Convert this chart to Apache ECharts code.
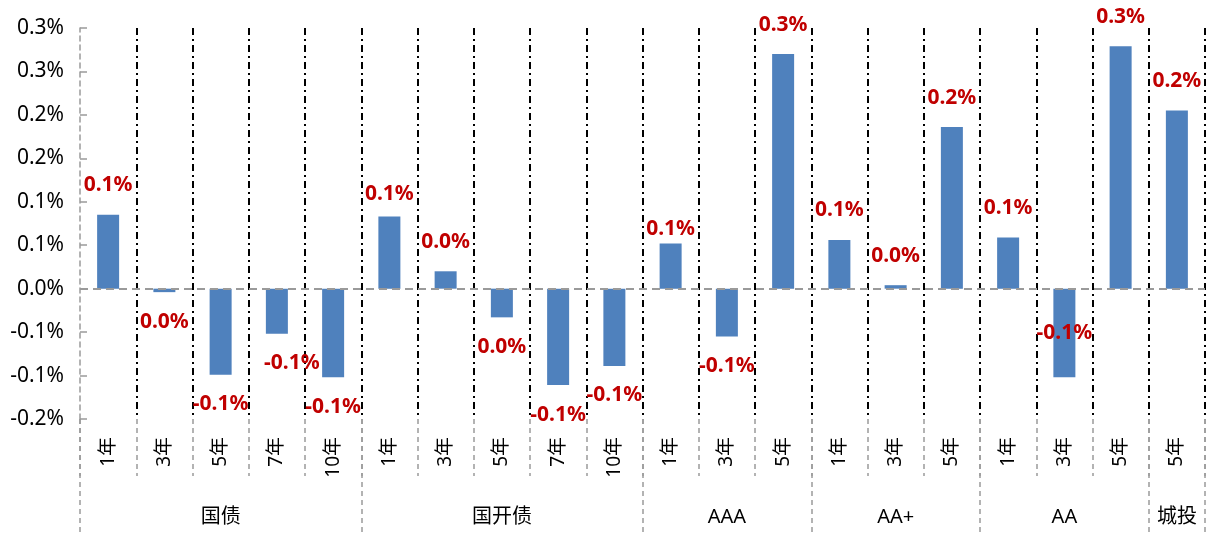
<!DOCTYPE html>
<html>
<head>
<meta charset="utf-8">
<script src="https://cdn.jsdelivr.net/npm/echarts@6/dist/echarts.min.js"></script>
<style>
html,body{margin:0;padding:0;background:#fff;}
#chart{width:1207px;height:533px;}
</style>
</head>
<body>
<div id="chart"></div>
<script>
// ---- data ----
const categories = ['1年','3年','5年','7年','10年','1年','3年','5年','7年','10年','1年','3年','5年','1年','3年','5年','1年','3年','5年','5年'];
const groups = ['国债','国开债','AAA','AA+','AA','城投'];
const groupSizes = [5,5,3,3,3,1];
const values = [0.085,-0.004,-0.099,-0.052,-0.102, 0.083,0.020,-0.033,-0.111,-0.089, 0.052,-0.055,0.270, 0.056,0.004,0.186, 0.059,-0.102,0.279, 0.205];
const yTicks = [-0.15,-0.10,-0.05,0,0.05,0.10,0.15,0.20,0.25,0.30];
const yTickLabels = ['-0.2%','-0.1%','-0.1%','0.0%','0.1%','0.1%','0.2%','0.2%','0.3%','0.3%'];

// ---- derived ----
const groupStarts = [];
const groupCenters = {};
let acc = 0;
groupSizes.forEach((s, i) => { groupStarts.push(acc); groupCenters[acc + (s - 1) / 2] = groups[i]; acc += s; });

function fmtPct(v) {
  const r = Math.sign(v) * Math.round(Math.abs(v) * 10 + 1e-9) / 10;
  const out = (r === 0 ? 0 : r).toFixed(1);
  return out + '%';
}

const FONT = "'Noto Sans','Noto Sans CJK SC',sans-serif";
const labelTweaks = { 3: { offset: [15, 0] }, 5: { distance: 12 }, 10: { distance: 4 }, 17: { position: 'inside' } };

const barData = values.map((v, i) => {
  const t = labelTweaks[i] || {};
  return {
    value: v,
    label: {
      position: t.position || (v >= 0 ? 'top' : 'bottom'),
      distance: t.distance !== undefined ? t.distance : 19,
      offset: t.offset || [0, 0]
    }
  };
});

const chart = echarts.init(document.getElementById('chart'), null, { renderer: 'canvas' });
chart.setOption({
  animation: false,
  backgroundColor: '#fff',
  textStyle: { fontFamily: FONT },
  grid: { left: 80, right: 2, top: 28, bottom: 114, containLabel: false },
  xAxis: [
    {
      type: 'category',
      data: categories,
      position: 'bottom',
      boundaryGap: true,
      axisLine: { show: false, onZero: false },
      axisTick: { show: true, length: 57, interval: 0, lineStyle: { color: '#9a9a9a', type: [5, 4], width: 1.5 } },
      splitLine: { show: true, interval: (i) => i > 0, lineStyle: { color: '#000', type: [7, 4, 2, 4], width: 2 } },
      axisLabel: { interval: 0, rotate: 90, margin: 18, fontSize: 19, color: '#000', fontFamily: FONT }
    },
    {
      type: 'category',
      data: categories,
      position: 'bottom',
      boundaryGap: true,
      axisLine: { show: false, onZero: false },
      axisTick: { show: true, length: 114, interval: (i) => groupStarts.indexOf(i) >= 0, lineStyle: { color: '#9a9a9a', type: [5, 4], width: 1.5 } },
      splitLine: { show: false },
      axisLabel: {
        interval: 0, margin: 88, fontSize: 20, color: '#000', fontFamily: FONT,
        formatter: (val, idx) => groupCenters[idx] || ''
      }
    }
  ],
  yAxis: {
    type: 'value',
    min: -0.15,
    max: 0.30,
    interval: 0.05,
    axisLine: { show: true, lineStyle: { color: '#9a9a9a', type: [5, 4], width: 1.5 } },
    axisTick: { show: true, inside: true, length: 7, lineStyle: { color: '#9a9a9a', width: 1.5 } },
    splitLine: { show: false },
    axisLabel: {
      margin: 16, fontSize: 21, color: '#000', fontFamily: FONT,
      formatter: (v) => {
        const k = yTicks.findIndex(t => Math.abs(t - v) < 1e-6);
        return k >= 0 ? yTickLabels[k] : '';
      }
    }
  },
  series: [
    {
      type: 'bar',
      xAxisIndex: 0,
      data: barData,
      barWidth: 22,
      itemStyle: { color: '#4F81BD' },
      label: {
        show: true,
        color: '#C00000',
        fontWeight: 'bold',
        fontSize: 21,
        fontFamily: FONT,
        formatter: (p) => fmtPct(p.value)
      },
      markLine: {
        silent: true,
        symbol: ['none', 'none'],
        label: { show: false },
        lineStyle: { color: '#9a9a9a', type: [8, 5], width: 2 },
        data: [{ yAxis: 0 }]
      }
    }
  ]
});
</script>
</body>
</html>
